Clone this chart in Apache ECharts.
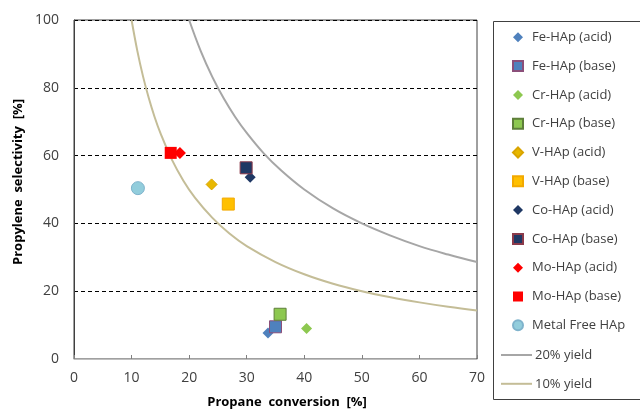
<!DOCTYPE html>
<html><head><meta charset="utf-8">
<script src="https://cdn.jsdelivr.net/npm/echarts@6/dist/echarts.min.js"></script>
<style>html,body{margin:0;padding:0;background:#fff}#c{width:640px;height:412px}</style>
</head><body><div id="c"></div>
<script>
// Scatter data [conversion %, selectivity %]
var feAcid = [[33.7, 7.7]];
var feBase = [[35.0, 9.5]];
var crAcid = [[40.4, 9.0]];
var crBase = [[35.8, 13.2]];
var vAcid = [[23.9, 51.5]];
var vBase = [[26.8, 45.7]];
var coAcid = [[30.6, 53.6]];
var coBase = [[29.9, 56.4]];
var moAcid = [[18.4, 60.8]];
var moBase = [[16.8, 60.8]];
var metalFree = [[11.1, 50.4]];
// Iso-yield curves
var y20X = [20, 22, 24, 26, 28, 30, 33, 36, 40, 45, 50, 55, 60, 65, 70];
var y20Y = [100, 90.9, 83.3, 76.9, 71.4, 66.7, 60.6, 55.6, 50, 44.4, 40, 36.4, 33.3, 30.8, 28.6];
var y10X = [10, 11, 12, 13, 14, 15, 17, 19, 21, 24, 27, 30, 35, 40, 45, 50, 55, 60, 65, 70];
var y10Y = [100, 90.9, 83.3, 76.9, 71.4, 66.7, 58.8, 52.6, 47.6, 41.7, 37, 33.3, 28.6, 25, 22.2, 20, 18.2, 16.7, 15.4, 14.3];
var xTicks = [0, 10, 20, 30, 40, 50, 60, 70];
var yTicks = [0, 20, 40, 60, 80, 100];
var names = ['Fe-HAp (acid)','Fe-HAp (base)','Cr-HAp (acid)','Cr-HAp (base)','V-HAp (acid)','V-HAp (base)','Co-HAp (acid)','Co-HAp (base)','Mo-HAp (acid)','Mo-HAp (base)','Metal Free HAp','20% yield','10% yield'];
var icons = ['diamond','rect','diamond','rect','diamond','rect','diamond','rect','diamond','rect','circle'];

function zip(a, b) { return a.map(function (v, i) { return [v, b[i]]; }); }
function sc(name, data, symbol, size, color, border) {
  return { type: 'scatter', name: name, data: data, symbol: symbol, symbolSize: size,
    itemStyle: { color: color, borderColor: border || color, borderWidth: border ? 1 : 0, opacity: 1 }, z: 5 };
}
var font = '"Open Sans", "Noto Sans", "Liberation Sans", sans-serif';
var chart = echarts.init(document.getElementById('c'), null, { renderer: 'canvas' });
chart.setOption({
  animation: false,
  backgroundColor: '#fff',
  grid: { left: 74, top: 20, right: 163, bottom: 53, show: true, borderColor: '#404040', borderWidth: 1, containLabel: false },
  xAxis: {
    type: 'value', min: xTicks[0], max: xTicks[xTicks.length - 1], interval: 10,
    axisLine: { show: true, lineStyle: { color: '#bfbfbf', width: 1 } },
    axisTick: { show: true, inside: true, length: 4, lineStyle: { color: '#808080' } },
    axisLabel: { fontSize: 14, color: '#404040', margin: 12, fontFamily: font },
    splitLine: { show: false }
  },
  yAxis: {
    type: 'value', min: yTicks[0], max: yTicks[yTicks.length - 1], interval: 20,
    axisLine: { show: true, lineStyle: { color: '#404040', width: 1 } },
    axisTick: { show: false },
    axisLabel: { fontSize: 14, color: '#404040', margin: 15, fontFamily: font },
    splitLine: { show: true, lineStyle: { color: '#000', type: [4, 3], width: 1 } }
  },
  legend: [{
    orient: 'vertical', left: 512, top: 30.3,
    data: names.slice(0, 11).map(function (n, i) { return { name: n, icon: icons[i] }; }),
    itemWidth: 10, itemHeight: 10, itemGap: 14.8, padding: 0,
    textStyle: { fontSize: 13, color: '#404040', lineHeight: 14, fontFamily: font, padding: [0, 0, 0, 4] }
  }, {
    orient: 'vertical', left: 501, top: 348,
    data: names.slice(11).map(function (n) { return { name: n, icon: 'rect' }; }),
    itemWidth: 31, itemHeight: 2, itemGap: 14.8, padding: 0,
    textStyle: { fontSize: 13, color: '#404040', lineHeight: 14, fontFamily: font, padding: [0, 0, 0, -2] }
  }],
  graphic: [
    { type: 'rect', shape: { x: 493.5, y: 21.5, width: 160, height: 378 }, style: { fill: 'none', stroke: '#404040', lineWidth: 1 }, z: 0 },
    { type: 'text', style: { text: 'Propane  conversion  [%]', x: 287, y: 402, textAlign: 'center', textVerticalAlign: 'middle', fontSize: 13, fontWeight: 'bold', fill: '#000', fontFamily: font } },
    { type: 'text', rotation: Math.PI / 2, x: 18, y: 182, style: { text: 'Propylene  selectivity  [%]', x: 0, y: 0, textAlign: 'center', textVerticalAlign: 'middle', fontSize: 13, fontWeight: 'bold', fill: '#000', fontFamily: font } }
  ],
  series: [
    sc(names[0], feAcid, 'diamond', 11, '#4F81BD'),
    sc(names[1], feBase, 'rect', 12, '#4F81BD', '#8B4F7A'),
    sc(names[2], crAcid, 'diamond', 11, '#8DC850'),
    sc(names[3], crBase, 'rect', 12, '#8DC850', '#5E7F3A'),
    sc(names[4], vAcid, 'diamond', 11, '#E8B800', '#D9A400'),
    sc(names[5], vBase, 'rect', 12, '#FFC000', '#F2A900'),
    sc(names[6], coAcid, 'diamond', 11, '#1F3864'),
    sc(names[7], coBase, 'rect', 12, '#1F3864', '#8B3A4A'),
    sc(names[8], moAcid, 'diamond', 12, '#FF0000'),
    sc(names[9], moBase, 'rect', 12, '#FF0000'),
    sc(names[10], metalFree, 'circle', 13, '#92CDDC', '#7FB3CC'),
    { type: 'line', name: names[11], data: zip(y20X, y20Y), smooth: 0.4, symbol: 'none', lineStyle: { color: '#A6A6A6', width: 2 }, itemStyle: { color: '#A6A6A6' }, z: 2 },
    { type: 'line', name: names[12], data: zip(y10X, y10Y), smooth: 0.4, symbol: 'none', lineStyle: { color: '#C4BD97', width: 2 }, itemStyle: { color: '#C4BD97' }, z: 2 }
  ]
});
</script></body></html>
